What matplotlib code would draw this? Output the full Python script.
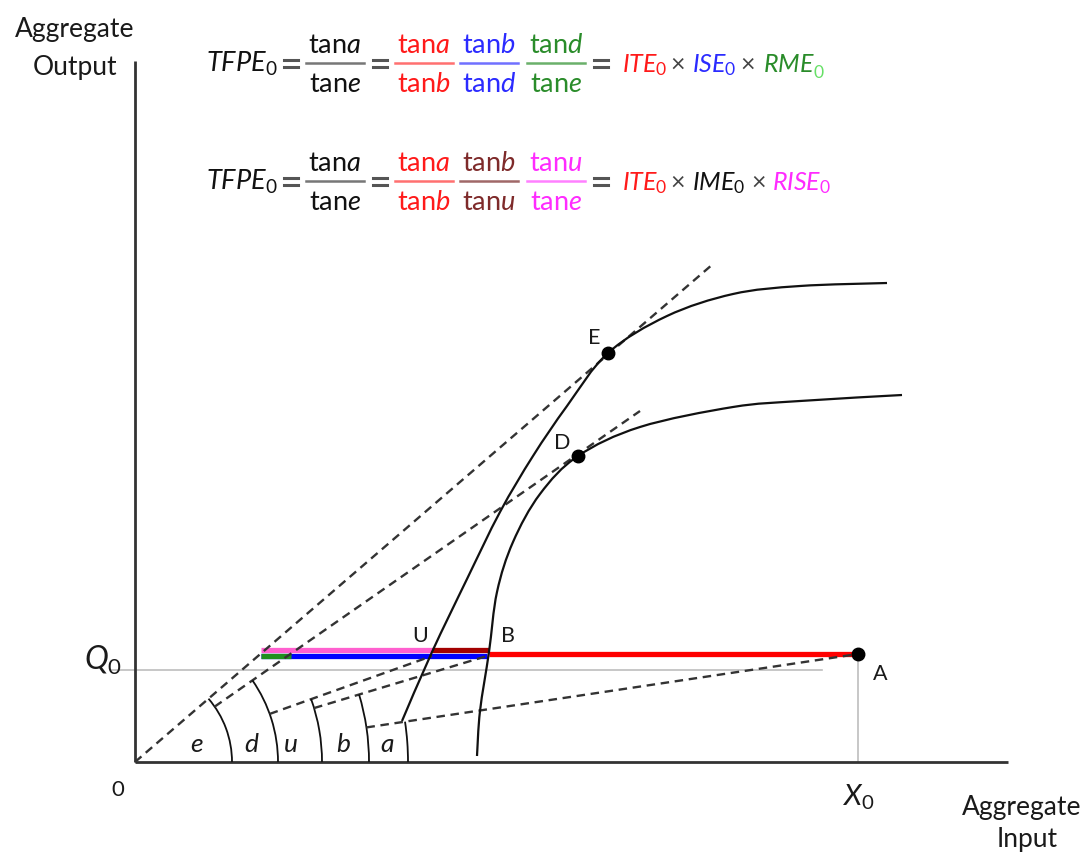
import numpy as np
import matplotlib.pyplot as plt
from matplotlib.path import Path
from matplotlib.patches import PathPatch, Arc

plt.rcParams['font.family'] = ['Lato', 'DejaVu Sans']
plt.rcParams['mathtext.fontset'] = 'custom'
plt.rcParams['mathtext.rm'] = 'Lato'
plt.rcParams['mathtext.it'] = 'Lato:italic'
plt.rcParams['mathtext.bf'] = 'Lato:bold'

# diagram values (origin of the axes = 0, input on x, output on y)
dot_names = ['A', 'D', 'E']
dot_x = [723, 443, 473]
dot_y = [108, 306, 409]

q0_level = 108          # output of firm A
q0_guide = 92           # thin grey Q0 line
x0_input = 723          # input of firm A
y_axis_top = 701
x_axis_end = 873

# upper frontier (through U and E) and lower frontier (through B and D)
upper_x = [267, 297, 332, 365, 398, 432, 473, 532, 598, 665, 752]
upper_y = [41, 110, 183, 250, 306, 356, 409, 446, 468, 476, 479]
lower_x = [342, 345, 354, 362, 378, 405, 443, 505, 598, 665, 767]
lower_y = [6, 51, 110, 170, 220, 268, 306, 335, 355, 361, 367]

# dashed rays from the origin and their angle arcs
ray_names = ['e', 'd', 'u', 'b', 'a']
ray_end_x = [578, 505, 297, 352, 723]
ray_end_y = [498, 351, 106, 106, 108]
arc_radius = [97, 143, 187, 234, 273]

# coloured segments on the Q0 level
seg_start = [126, 297, 126, 126, 354]
seg_end = [297, 354, 352, 156, 723]
seg_level = [112, 112, 106, 106, 108]
seg_color = ['#ff5fcf', '#a30000', '#0000ff', '#1f8f1f', '#ff0000']

RED, BLUE, GREEN = '#ff1a1a', '#2b2bff', '#2a8c2a'
MAG, DRED, GREY = '#ff2bff', '#7e2a2a', '#333333'
INK = '#1a1a1a'


def smooth_path(xs, ys):
    pts = np.column_stack([xs, ys]).astype(float)
    n = len(pts)
    verts, codes = [pts[0]], [Path.MOVETO]
    for i in range(n - 1):
        p0 = pts[i - 1] if i > 0 else pts[i]
        p1, p2 = pts[i], pts[i + 1]
        p3 = pts[i + 2] if i + 2 < n else pts[i + 1]
        verts += [p1 + (p2 - p0) / 6, p2 - (p3 - p1) / 6, p2]
        codes += [Path.CURVE4] * 3
    return Path(verts, codes)


fig = plt.figure(figsize=(10.88, 8.53), dpi=100)
ax = fig.add_axes([0, 0, 1, 1])
ax.set_xlim(-135, 953)
ax.set_ylim(-90, 763)
ax.axis('off')

# guide lines for Q0 and X0
ax.plot([-24, 687], [q0_guide, q0_guide], color='#bdbdbd', lw=1.2, zorder=1)
ax.plot([x0_input, x0_input], [0, q0_level], color='#bdbdbd', lw=1.2, zorder=1)

# axes
ax.plot([0, 0], [0, y_axis_top], color=GREY, lw=2, solid_capstyle='butt', zorder=3)
ax.plot([0, x_axis_end], [0, 0], color=GREY, lw=2, solid_capstyle='butt', zorder=3)

# coloured segments
for x0, x1, lev, c in zip(seg_start, seg_end, seg_level, seg_color):
    ax.plot([x0, x1], [lev, lev], color=c, lw=3.8, solid_capstyle='butt', zorder=2)

# dashed rays and arcs
for i, (ex, ey) in enumerate(zip(ray_end_x, ray_end_y)):
    ang = np.arctan2(ey, ex)
    r0 = 0 if i == 0 else arc_radius[i - 1]
    ax.plot([r0 * np.cos(ang), ex], [r0 * np.sin(ang), ey], color=GREY, lw=1.7,
            linestyle=(0, (3.6, 2.4)), zorder=4)
    r = arc_radius[i]
    ax.add_patch(Arc((0, 0), 2 * r, 2 * r, theta1=0, theta2=np.degrees(ang),
                     color='#111111', lw=1.3, zorder=4))

# angle labels
label_x = [62, 116, 156, 208, 252]
for name, lx in zip(ray_names, label_x):
    ax.text(lx, 18, name, fontsize=19, style='italic', color=INK,
            ha='center', va='center')

# frontiers
for xs, ys in [(upper_x, upper_y), (lower_x, lower_y)]:
    ax.add_patch(PathPatch(smooth_path(xs, ys), fill=False, color='#111111', lw=1.6, zorder=5))

# dots
ax.plot(dot_x, dot_y, 'o', color='black', markersize=9, zorder=6)

# point labels
pt_labels = {'E': (459, 425), 'D': (427, 320), 'U': (285, 127), 'B': (373, 127), 'A': (745, 89)}
for name, (lx, ly) in pt_labels.items():
    ax.text(lx, ly, name, fontsize=15.5, color=INK, ha='center', va='center')

# axis labels
ax.text(-60, 733, 'Aggregate', fontsize=19, color=INK, ha='center', va='center')
ax.text(-60, 696, 'Output', fontsize=19, color=INK, ha='center', va='center')
ax.text(887, -45, 'Aggregate', fontsize=19, color=INK, ha='center', va='center')
ax.text(892, -77, 'Input', fontsize=19, color=INK, ha='center', va='center')
ax.text(-17, -27, '0', fontsize=16, color=INK, ha='center', va='center')
ax.text(-51, 93, r'$Q_0$', fontsize=23, color=INK, ha='left', va='baseline')
ax.text(708, -43, r'$X_0$', fontsize=21, color=INK, ha='left', va='baseline')

# formulas
FS = 19.5
TS = 18


def frac(cx, bar_y, num, den, color, bar_color):
    ax.text(cx, bar_y + 11, num, fontsize=FS, color=color, ha='center', va='baseline')
    ax.text(cx, bar_y - 28, den, fontsize=FS, color=color, ha='center', va='baseline')
    ax.plot([cx - 29, cx + 29], [bar_y, bar_y], color=bar_color, lw=1.8, zorder=3)


def equals(cx, bar_y):
    ax.plot([cx - 7, cx + 7], [bar_y + 3.5, bar_y + 3.5], color='#555555', lw=2.2)
    ax.plot([cx - 7, cx + 7], [bar_y - 3.5, bar_y - 3.5], color='#555555', lw=2.2)


def formula(bar_y, fracs, terms, term_x, times_x):
    base = bar_y - 8
    ax.text(71, base, r'$TFPE_0$', fontsize=FS, color='#111111', ha='left', va='baseline')
    equals(156, bar_y)
    frac(200, bar_y, r'$\mathrm{tan}a$', r'$\mathrm{tan}e$', '#111111', '#777777')
    equals(245, bar_y)
    for cx, (num, den, c, bc) in zip([289, 354, 421], fracs):
        frac(cx, bar_y, num, den, c, bc)
    equals(466, bar_y)
    for tx, (txt, c) in zip(term_x, terms):
        ax.text(tx, base, txt, fontsize=TS, color=c, ha='left', va='baseline')
    for tx in times_x:
        ax.text(tx, base, '×', fontsize=TS, color='#444444', ha='center', va='baseline')


formula(699,
        [(r'$\mathrm{tan}a$', r'$\mathrm{tan}b$', RED, '#ff7070'),
         (r'$\mathrm{tan}b$', r'$\mathrm{tan}d$', BLUE, '#7070ff'),
         (r'$\mathrm{tan}d$', r'$\mathrm{tan}e$', GREEN, '#6ab06a')],
        [(r'$ITE_0$', RED), (r'$ISE_0$', BLUE), (r'$RME$', GREEN)],
        [487, 557, 628], [543, 613])
ax.text(678, 685, '0', fontsize=TS * 0.7, color='#66e066', ha='left', va='baseline')

formula(581,
        [(r'$\mathrm{tan}a$', r'$\mathrm{tan}b$', RED, '#ff7070'),
         (r'$\mathrm{tan}b$', r'$\mathrm{tan}u$', DRED, '#a06868'),
         (r'$\mathrm{tan}u$', r'$\mathrm{tan}e$', MAG, '#ff80ff')],
        [(r'$ITE_0$', RED), (r'$IME_0$', '#111111'), (r'$RISE_0$', MAG)],
        [487, 557, 637], [543, 624])

fig.savefig('out.png', dpi=100)
